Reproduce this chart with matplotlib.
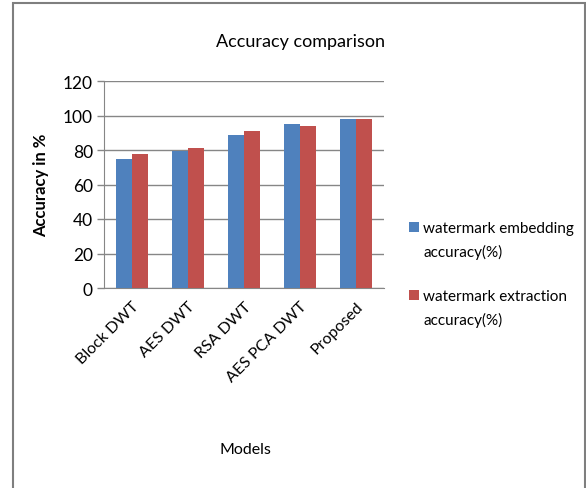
import matplotlib.pyplot as plt
import matplotlib.patches as mpatches
import numpy as np

plt.rcParams['font.family'] = ['Lato', 'DejaVu Sans']

# data
models = ['Block DWT', 'AES DWT', 'RSA DWT', 'AES PCA DWT', 'Proposed']
embedding = [74.5, 79.5, 88.8, 95.2, 98.1]
extraction = [77.8, 81.3, 90.8, 93.7, 98.1]
series_names = ['watermark embedding\naccuracy(%)', 'watermark extraction\naccuracy(%)']
yticks = [0, 20, 40, 60, 80, 100, 120]

blue = '#4F81BD'
red = '#C0504D'
grid_col = '#868686'

fig = plt.figure(figsize=(5.86, 4.89), dpi=100)
ax = fig.add_axes([104 / 586, 1 - 289 / 489, 280 / 586, 207 / 489])

x = np.arange(len(models))
w = 0.286
ax.bar(x - w / 2, embedding, w, color=blue, label=series_names[0], zorder=3)
ax.bar(x + w / 2, extraction, w, color=red, label=series_names[1], zorder=3)

ax.set_xlim(-0.5, len(models) - 0.5)
ax.set_ylim(0, 120)
ax.set_yticks(yticks)
ax.set_yticklabels([str(t) for t in yticks], fontsize=12.5)
ax.yaxis.grid(True, color=grid_col, linewidth=1, zorder=0)
ax.set_xticks(x)
ax.set_xticklabels(models, rotation=45, ha='right', rotation_mode='anchor', fontsize=11.5)
ax.tick_params(axis='x', length=0, pad=8)
ax.tick_params(axis='y', length=5, color=grid_col, width=1, pad=3)

for s in ['top', 'right']:
    ax.spines[s].set_visible(False)
ax.spines['left'].set_color(grid_col)
ax.spines['bottom'].set_color(grid_col)

ax.set_ylabel('Accuracy in %', fontsize=12, fontweight='bold')
ax.yaxis.set_label_coords(-0.196, 0.5)
fig.text(245 / 586, 1 - 450 / 489, 'Models', fontsize=11.5, ha='center', va='center')
fig.text(300 / 586, 1 - 42 / 489, 'Accuracy comparison', fontsize=13, ha='center', va='center')

# legend drawn by hand so the swatch sits on the first text line (Excel style)
colors = [blue, red]
for i, (name, col) in enumerate(zip(series_names, colors)):
    yc = 228 + i * 68
    fig.add_artist(mpatches.Rectangle((409 / 586, 1 - (yc + 5) / 489), 10 / 586, 10 / 489,
                                      transform=fig.transFigure, facecolor=col, edgecolor='none'))
    fig.text(423 / 586, 1 - (yc - 6) / 489, name, fontsize=11, ha='left', va='top',
             linespacing=1.75)

# chart border
fig.add_artist(mpatches.Rectangle((13 / 586, -0.01), 572 / 586, 1 - 4 / 489 + 0.01,
                                  transform=fig.transFigure, fill=False,
                                  edgecolor='#7f7f7f', linewidth=1.5))

fig.savefig('out.png', dpi=100)
